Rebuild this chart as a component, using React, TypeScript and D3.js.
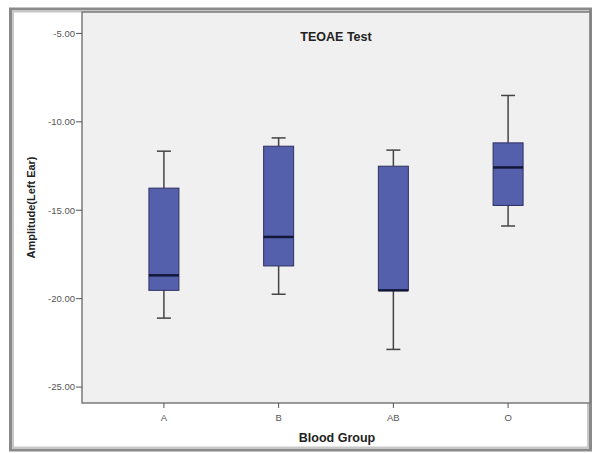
import React from "react";
import * as d3 from "d3";

const groups = ["A", "B", "AB", "O"];
const whiskerLow = [-21.1, -19.75, -22.87, -15.89];
const q1 = [-19.53, -18.15, -19.53, -14.73];
const medians = [-18.68, -16.51, -19.53, -12.58];
const q3 = [-13.75, -11.38, -12.51, -11.19];
const whiskerHigh = [-11.66, -10.91, -11.6, -8.51];
const yTicks = [-5, -10, -15, -20, -25];

const W = 593;
const H = 453;
const plot = { left: 82, right: 590, top: 12, bottom: 403 };

const App = () => {
  const x = d3
    .scalePoint<string>()
    .domain(groups)
    .range([plot.left, plot.right])
    .padding(0.714);
  const y = d3.scaleLinear().domain([-25.9, -3.79]).range([plot.bottom, plot.top]);
  const boxW = 30;
  const capW = 14;
  const font = "Arial, 'Liberation Sans', sans-serif";

  return (
    <svg
      width={W}
      height={H}
      style={{ position: "absolute", left: 0, top: 0, display: "block" }}
      fontFamily={font}
    >
      <rect x={0} y={0} width={W} height={H} fill="#fff" />
      {/* outer frame */}
      <rect x={10.5} y={9} width={580} height={441} fill="#fff" stroke="#8a8a8a" strokeWidth={3} />
      <rect x={13} y={11.5} width={575} height={436} fill="none" stroke="#c8c8c8" strokeWidth={2} />
      {/* plot area */}
      <rect
        x={plot.left}
        y={plot.top}
        width={plot.right - plot.left}
        height={plot.bottom - plot.top}
        fill="#f0f0f0"
        stroke="#7a7a7a"
        strokeWidth={1.5}
      />
      {/* y axis */}
      {yTicks.map((t) => (
        <g key={t}>
          <line x1={plot.left - 6} x2={plot.left} y1={y(t)} y2={y(t)} stroke="#555" />
          <text
            x={plot.left - 7}
            y={y(t)}
            dy="0.35em"
            textAnchor="end"
            fontSize={9.5}
            fill="#555"
          >
            {t.toFixed(2)}
          </text>
        </g>
      ))}
      {/* x axis */}
      {groups.map((g) => (
        <g key={g}>
          <line x1={x(g)} x2={x(g)} y1={plot.bottom} y2={plot.bottom + 5} stroke="#555" />
          <text x={x(g)} y={plot.bottom + 18} textAnchor="middle" fontSize={9.5} fill="#555">
            {g}
          </text>
        </g>
      ))}
      {/* boxes */}
      {groups.map((g, i) => {
        const cx = x(g) as number;
        return (
          <g key={g}>
            <line x1={cx} x2={cx} y1={y(whiskerHigh[i])} y2={y(q3[i])} stroke="#444" strokeWidth={1.5} />
            <line x1={cx} x2={cx} y1={y(q1[i])} y2={y(whiskerLow[i])} stroke="#444" strokeWidth={1.5} />
            <line
              x1={cx - capW / 2}
              x2={cx + capW / 2}
              y1={y(whiskerHigh[i])}
              y2={y(whiskerHigh[i])}
              stroke="#444"
              strokeWidth={1.5}
            />
            <line
              x1={cx - capW / 2}
              x2={cx + capW / 2}
              y1={y(whiskerLow[i])}
              y2={y(whiskerLow[i])}
              stroke="#444"
              strokeWidth={1.5}
            />
            <rect
              x={cx - boxW / 2}
              y={y(q3[i])}
              width={boxW}
              height={y(q1[i]) - y(q3[i])}
              fill="#5560ad"
              stroke="#2e3060"
              strokeWidth={1}
            />
            <line
              x1={cx - boxW / 2}
              x2={cx + boxW / 2}
              y1={y(medians[i])}
              y2={y(medians[i])}
              stroke="#141838"
              strokeWidth={2.5}
            />
          </g>
        );
      })}
      {/* titles */}
      <text x={336} y={41} textAnchor="middle" fontSize={12.5} fontWeight="bold" fill="#222">
        TEOAE Test
      </text>
      <text
        transform={`translate(35,${(plot.top + plot.bottom) / 2}) rotate(-90)`}
        textAnchor="middle"
        fontSize={11}
        fontWeight="bold"
        fill="#222"
      >
        Amplitude(Left Ear)
      </text>
      <text x={337} y={442} textAnchor="middle" fontSize={12.5} fontWeight="bold" fill="#222">
        Blood Group
      </text>
    </svg>
  );
};

export default App;
